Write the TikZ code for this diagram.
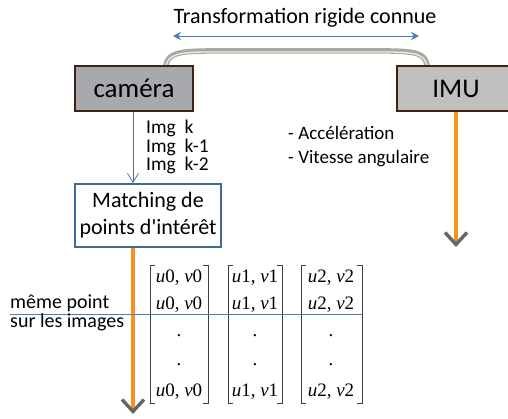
\documentclass[tikz,border=0pt]{standalone}
\usepackage{fontspec}
\setmainfont{Carlito}[Ligatures=TeXOff]
\newfontfamily\tms{Liberation Serif}
\usetikzlibrary{arrows.meta}
\definecolor{boxbrown}{HTML}{3B2416}
\definecolor{camgray}{HTML}{A8A9AC}
\definecolor{imugray}{HTML}{C0C0C0}
\definecolor{orng}{HTML}{F7931E}
\definecolor{lblue}{HTML}{4A7EBB}
\definecolor{mblue}{HTML}{3D6A99}
\definecolor{chev}{HTML}{666666}
\definecolor{pipe}{HTML}{A8A8A8}
\definecolor{cream}{HTML}{F3EED2}
\tikzset{
  sensor/.style={draw=boxbrown, line width=2.8pt, minimum width=118pt, minimum height=45pt, inner sep=0pt, font=\fontsize{27}{30}\selectfont},
  matchbox/.style={draw=mblue, line width=2pt, fill=white, minimum width=146pt, minimum height=63pt, inner sep=0pt, align=center, font=\fontsize{22}{27}\selectfont},
  lbl/.style={inner sep=0pt, anchor=west, align=left},
  orline/.style={draw=orng, line width=4pt, -{Straight Barb[color=chev, length=12pt, width=22pt, line width=3.4pt]}},
  entry/.style={inner sep=0pt, font=\tms\fontsize{19}{22}\selectfont},
  brk/.style={draw=black!75, line width=0.8pt},
}
\begin{document}
\begin{tikzpicture}[x=1pt,y=-1pt]
\useasboundingbox (0,0) rectangle (508,419);
\clip (0,0) rectangle (508,419);
% title and rigid link
\node[inner sep=0pt, font=\fontsize{22}{24}\selectfont] (title) at (305,18) {Transformation rigide connue};
\coordinate (al) at (173,36);
\coordinate (ar) at (419,36);
\draw[lblue, line width=0.8pt, {Stealth[length=8pt,width=8pt]}-{Stealth[length=8pt,width=8pt]}] (al) -- (ar);
\coordinate (pl) at (166,65);
\coordinate (pr) at (427,65);
\draw[pipe, line width=5.5pt, line cap=round] (pl) .. controls (168,53) and (180,51.5) .. (205,51) -- (390,51) .. controls (415,51.5) and (425,53) .. (pr);
\draw[cream, line width=1.3pt, line cap=round] ([yshift=-1pt]pl) .. controls (168,54) and (180,52.5) .. (205,52) -- (390,52) .. controls (415,52.5) and (425,54) .. ([yshift=-1pt]pr);
% sensors
\node[sensor, fill=camgray] (cam) at (134,88.5) {caméra};
\node[sensor, fill=imugray] (imu) at (456,88.5) {IMU};
% matching
\node[matchbox] (match) at (148,215.5) {Matching de\\points d'intérêt};
\draw[black!60, line width=0.8pt, -{Straight Barb[color=lblue, length=9pt, width=11pt, line width=0.8pt]}] ([xshift=-1pt]cam.south) -- ([xshift=-1pt]cam.south |- match.north);
\node[lbl, font=\fontsize{19.5}{18.5}\selectfont] (imgs) at (146,147) {Img\ \ k\\Img\ \ k-1\\Img\ \ k-2};
\node[lbl, font=\fontsize{19}{24}\selectfont] (meas) at (288,147) {- Accélération\\- Vitesse angulaire};
% orange lines
\coordinate (imuend) at (456,247);
\draw[orline] (imu.south) -- (imuend);
\coordinate (mend) at (133,414);
\draw[orline] (match.south -| mend) -- (mend);
% matrices
\foreach \c/\l/\r/\i in {c1/150/208/0, c2/228/282/1, c3/301/362/2}{
  \draw[brk] (\l+5,265) -- (\l,265) -- (\l,403) -- (\l+5,403);
  \draw[brk] (\r-5,265) -- (\r,265) -- (\r,403) -- (\r-5,403);
}
\foreach \x/\i in {179/0, 255/1, 331/2}{
  \node[entry] (r1\i) at (\x,278) {\itshape u\upshape\i, \itshape v\upshape\i};
  \node[entry] (r2\i) at (\x,305) {\itshape u\upshape\i, \itshape v\upshape\i};
  \node[entry] (r3\i) at (\x,336) {.};
  \node[entry] (r4\i) at (\x,365) {.};
  \node[entry] (r5\i) at (\x,392) {\itshape u\upshape\i, \itshape v\upshape\i};
}
% same point line
\coordinate (hl) at (10,314);
\coordinate (hr) at (362,314);
\draw[lblue, line width=0.9pt] (hl) -- (hr);
\node[lbl, font=\fontsize{20}{19}\selectfont] (same) at (10,313) {même point\\sur les images};
\end{tikzpicture}
\end{document}
